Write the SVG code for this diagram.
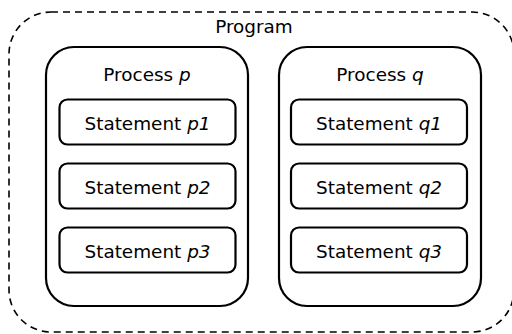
<svg xmlns="http://www.w3.org/2000/svg" width="512" height="334" viewBox="0 0 512 334">
<style>
.prog{fill:none;stroke:#000;stroke-width:1.6;stroke-dasharray:7,5}
.proc{fill:#fff;stroke:#000;stroke-width:2.2}
.stmt{fill:#fff;stroke:#000;stroke-width:2.2}
text{font-family:"DejaVu Sans","Verdana",sans-serif;font-size:18.4px;fill:#000;text-anchor:middle}
.i{font-style:italic}
</style>
<rect width="512" height="334" fill="#fff"/>
<g id="program">
<rect class="prog" x="9" y="12" width="505" height="320" rx="42" ry="42"/>
<text x="254" y="32.5">Program</text>
</g>
<g id="process-p">
<rect class="proc" x="46" y="47" width="202" height="259" rx="28" ry="28"/>
<text x="147" y="81">Process <tspan class="i">p</tspan></text>
</g>
<g id="process-q">
<rect class="proc" x="279" y="47" width="202" height="259" rx="28" ry="28"/>
<text x="380" y="81">Process <tspan class="i">q</tspan></text>
</g>
<g id="stmt-p1"><rect class="stmt" x="59.5" y="99.5" width="176" height="45" rx="8" ry="8"/><text x="147.5" y="129.5">Statement <tspan class="i">p1</tspan></text></g>
<g id="stmt-p2"><rect class="stmt" x="59.5" y="163.5" width="176" height="45" rx="8" ry="8"/><text x="147.5" y="193.5">Statement <tspan class="i">p2</tspan></text></g>
<g id="stmt-p3"><rect class="stmt" x="59.5" y="227.5" width="176" height="45" rx="8" ry="8"/><text x="147.5" y="257.5">Statement <tspan class="i">p3</tspan></text></g>
<g id="stmt-q1"><rect class="stmt" x="291" y="99.5" width="176" height="45" rx="8" ry="8"/><text x="379" y="129.5">Statement <tspan class="i">q1</tspan></text></g>
<g id="stmt-q2"><rect class="stmt" x="291" y="163.5" width="176" height="45" rx="8" ry="8"/><text x="379" y="193.5">Statement <tspan class="i">q2</tspan></text></g>
<g id="stmt-q3"><rect class="stmt" x="291" y="227.5" width="176" height="45" rx="8" ry="8"/><text x="379" y="257.5">Statement <tspan class="i">q3</tspan></text></g>
<g id="connectors"></g>
</svg>
